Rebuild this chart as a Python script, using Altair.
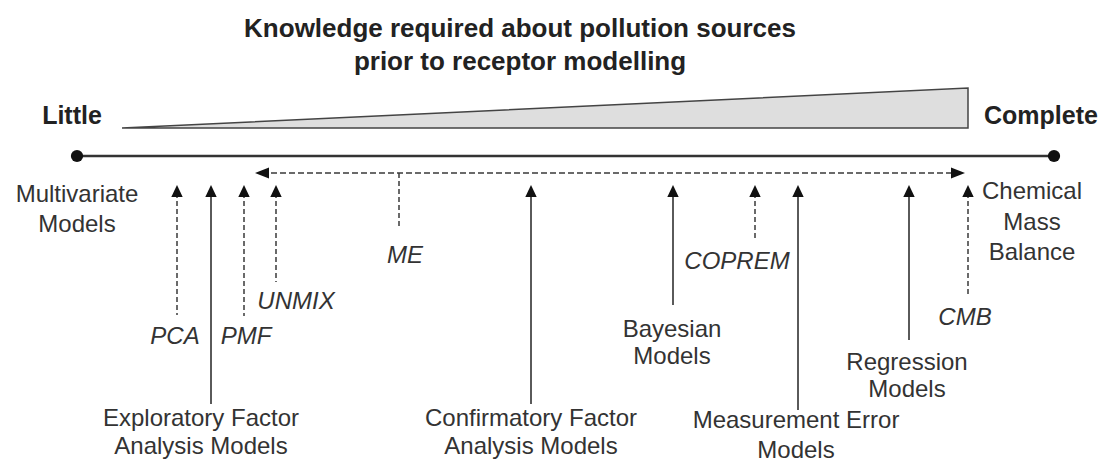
import altair as alt
import pandas as pd

# ---- canvas in picture coordinates ----
X0, X1 = 8, 1098
Y0, Y1 = 8, 465
W, H = X1 - X0, Y1 - Y0
FONT = "Liberation Sans"

# ---- data ----
# upward arrows (method -> position on the knowledge axis)
arrow_names = ["PCA", "Exploratory FA", "PMF", "UNMIX", "Confirmatory FA",
               "Bayesian", "COPREM", "Measurement Error", "Regression", "CMB"]
arrow_x = [177, 211, 244, 276, 531, 673, 755, 798, 909, 968]
arrow_bottom = [315, 404, 316, 282, 404, 305, 238, 410, 340, 295]
arrow_dashed = [True, False, True, True, False, False, True, False, False, True]
arrow_tip = 185

# main knowledge axis
axis_x = [77, 1054]
axis_y = 156

# wedge (knowledge required)
wedge_x = [122, 968]
wedge_top = [128, 88]
wedge_base = 128

# ME span (dashed double arrow)
me_span_x = [262, 958]
me_span_y = 173
me_drop_x = 399
me_drop_y = [173, 228]

# texts
bold_text = ["Knowledge required about pollution sources", "prior to receptor modelling",
             "Little", "Complete"]
bold_x = [520, 520, 72, 1041]
bold_y = [29, 62, 116, 116]

reg_text = ["Multivariate", "Models", "Exploratory Factor", "Analysis Models",
            "Confirmatory Factor", "Analysis Models", "Bayesian", "Models",
            "Measurement Error", "Models", "Regression", "Models",
            "Chemical", "Mass", "Balance"]
reg_x = [77, 77, 201, 201, 531, 531, 672, 672, 796, 796, 907, 907, 1032, 1032, 1032]
reg_y = [195, 225, 419, 447, 419, 447, 330, 357, 421, 451, 363, 390, 192, 223, 253]

ital_text = ["PCA", "PMF", "UNMIX", "ME", "COPREM", "CMB"]
ital_x = [175, 246, 296, 405, 737, 965]
ital_y = [337, 337, 302, 256, 262, 318]

# ---- scales ----
xs = alt.Scale(domain=[X0, X1], zero=False, nice=False)
ys = alt.Scale(domain=[Y0, Y1], zero=False, nice=False, reverse=True)
X = lambda f: alt.X(f, type="quantitative", scale=xs, axis=None)
Y = lambda f: alt.Y(f, type="quantitative", scale=ys, axis=None)

# ---- frames ----
arrows = pd.DataFrame({"name": arrow_names, "x": arrow_x, "y2": arrow_bottom,
                       "dashed": arrow_dashed})
arrows["y"] = arrow_tip + 8
heads = pd.DataFrame({"x": arrow_x, "y": [arrow_tip + 6] * len(arrow_x)})

solid = alt.Chart(arrows[~arrows.dashed]).mark_rule(color="#5a5a5a", strokeWidth=2).encode(
    x=X("x"), y=Y("y"), y2="y2")
dashed = alt.Chart(arrows[arrows.dashed]).mark_rule(
    color="#3a3a3a", strokeWidth=1.5, strokeDash=[5, 3]).encode(x=X("x"), y=Y("y"), y2="y2")
up_heads = alt.Chart(heads).mark_point(
    shape="M0,-1L-0.95,1L0.95,1Z", filled=True, size=144, color="#111", opacity=1).encode(
    x=X("x"), y=Y("y"))

axis_df = pd.DataFrame({"x": [axis_x[0]], "x2": [axis_x[1]], "y": [axis_y]})
axis_line = alt.Chart(axis_df).mark_rule(color="#333", strokeWidth=2.5).encode(
    x=X("x"), x2="x2", y=Y("y"))
dots = alt.Chart(pd.DataFrame({"x": axis_x, "y": [axis_y] * 2})).mark_point(
    shape="circle", filled=True, size=150, color="#111", opacity=1).encode(x=X("x"), y=Y("y"))

wedge_df = pd.DataFrame({"x": wedge_x, "y": wedge_top, "y2": [wedge_base] * 2})
wedge = alt.Chart(wedge_df).mark_area(
    color="#dedede", stroke="#444", strokeWidth=1.5, opacity=1, fillOpacity=1).encode(
    x=X("x"), y=Y("y"), y2="y2")

span_df = pd.DataFrame({"x": [me_span_x[0]], "x2": [me_span_x[1]], "y": [me_span_y]})
span = alt.Chart(span_df).mark_rule(color="#3a3a3a", strokeWidth=1.5, strokeDash=[6, 3]).encode(
    x=X("x"), x2="x2", y=Y("y"))
drop_df = pd.DataFrame({"x": [me_drop_x], "y": [me_drop_y[0]], "y2": [me_drop_y[1]]})
drop = alt.Chart(drop_df).mark_rule(color="#3a3a3a", strokeWidth=1.5, strokeDash=[5, 3]).encode(
    x=X("x"), y=Y("y"), y2="y2")
left_head = alt.Chart(pd.DataFrame({"x": [me_span_x[0]], "y": [me_span_y]})).mark_point(
    shape="M-1,0L1,-0.8L1,0.8Z", filled=True, size=196, color="#111", opacity=1).encode(
    x=X("x"), y=Y("y"))
right_head = alt.Chart(pd.DataFrame({"x": [me_span_x[1]], "y": [me_span_y]})).mark_point(
    shape="M1,0L-1,-0.8L-1,0.8Z", filled=True, size=196, color="#111", opacity=1).encode(
    x=X("x"), y=Y("y"))

bold = alt.Chart(pd.DataFrame({"t": bold_text, "x": bold_x, "y": bold_y})).mark_text(
    font=FONT, fontWeight="bold", color="#222", baseline="middle", align="center").encode(
    x=X("x"), y=Y("y"), text="t",
    size=alt.condition(alt.datum.y < 80, alt.value(26), alt.value(25)))
reg = alt.Chart(pd.DataFrame({"t": reg_text, "x": reg_x, "y": reg_y})).mark_text(
    font=FONT, fontSize=24, color="#333", baseline="middle", align="center").encode(
    x=X("x"), y=Y("y"), text="t")
ital = alt.Chart(pd.DataFrame({"t": ital_text, "x": ital_x, "y": ital_y})).mark_text(
    font=FONT, fontSize=24, fontStyle="italic", color="#333", baseline="middle", align="center").encode(
    x=X("x"), y=Y("y"), text="t")

chart = alt.layer(
    wedge, axis_line, dots, span, drop, left_head, right_head,
    solid, dashed, up_heads, bold, reg, ital
).properties(width=W, height=H, padding=0, background="white",
             autosize=alt.AutoSizeParams(type="none")
).configure_view(strokeWidth=0, stroke="transparent")

chart.save("out.html", embed_options={"renderer": "svg", "actions": False})
